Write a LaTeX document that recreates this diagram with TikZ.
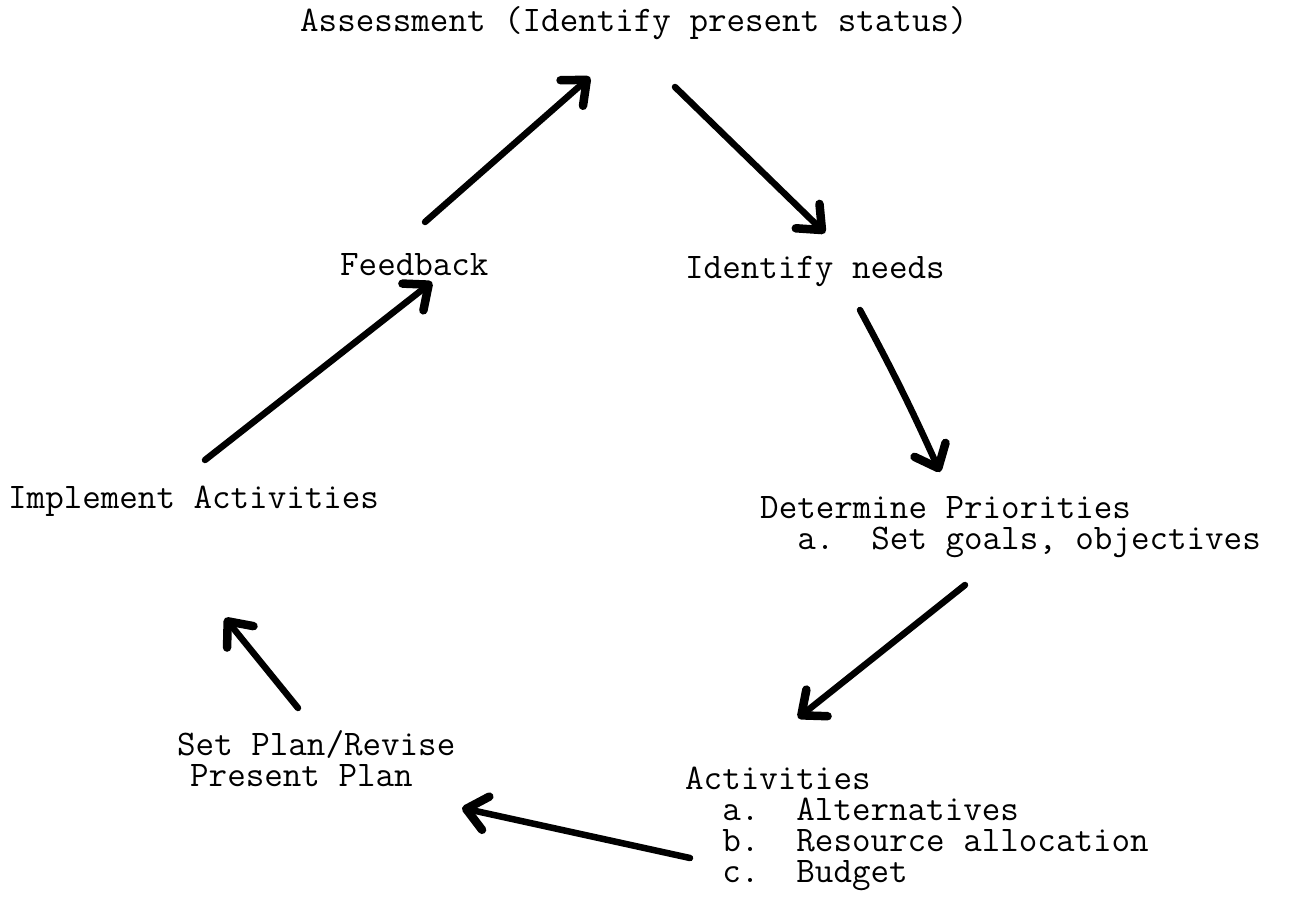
\documentclass[tikz,border=0pt]{standalone}
\usepackage{fontspec}
\usetikzlibrary{arrows.meta}
\begin{document}
\begin{tikzpicture}[x=1pt,y=-1pt,
  lbl/.style={font=\ttfamily\fontsize{36}{31}\selectfont, inner sep=0pt, anchor=base west},
  arr/.style={line width=6.5pt, line cap=round, line join=round,
    -{Straight Barb[length=20pt,width=34pt,line width=8.5pt,round]}}]
\useasboundingbox (0,0) rectangle (1295,897);
% labels
\node[lbl] (assess) at (300,31) {Assessment (Identify present status)};
\node[lbl] (feed) at (340,275) {Feedback};
\node[lbl] (needs) at (685,278) {Identify needs};
\node[lbl] (impl) at (8,508) {Implement Activities};
\node[lbl] (prio) at (760,518) {Determine Priorities};
\node[lbl] (prioa) at (760,549) {~~a.~~Set goals, objectives};
\node[lbl] (plan) at (177,755) {Set Plan/Revise};
\node[lbl] (plan2) at (190,786) {Present Plan};
\node[lbl] (act) at (685,789) {Activities};
\node[lbl] (acta) at (685,820) {~~a.~~Alternatives};
\node[lbl] (actb) at (685,851) {~~b.~~Resource allocation};
\node[lbl] (actc) at (685,882) {~~c.~~Budget};
% connector ends
\coordinate (f1) at (425,222); \coordinate (f2) at (590,77);
\coordinate (n1) at (675,87);  \coordinate (n2) at (825,233);
\coordinate (p1) at (860,310); \coordinate (p2) at (940,472);
\coordinate (a1) at (965,585); \coordinate (a2) at (798,718);
\coordinate (s1) at (690,858); \coordinate (s2) at (462,808);
\coordinate (i1) at (298,708); \coordinate (i2) at (225,618);
\coordinate (b1) at (205,460); \coordinate (b2) at (432,282);
\draw[arr] (f1) -- (f2);
\draw[arr] (n1) -- (n2);
\draw[arr] (p1) to[bend left=2] (p2);
\draw[arr] (a1) -- (a2);
\draw[arr] (s1) -- (s2);
\draw[arr] (i1) -- (i2);
\draw[arr] (b1) -- (b2);
\end{tikzpicture}
\end{document}
